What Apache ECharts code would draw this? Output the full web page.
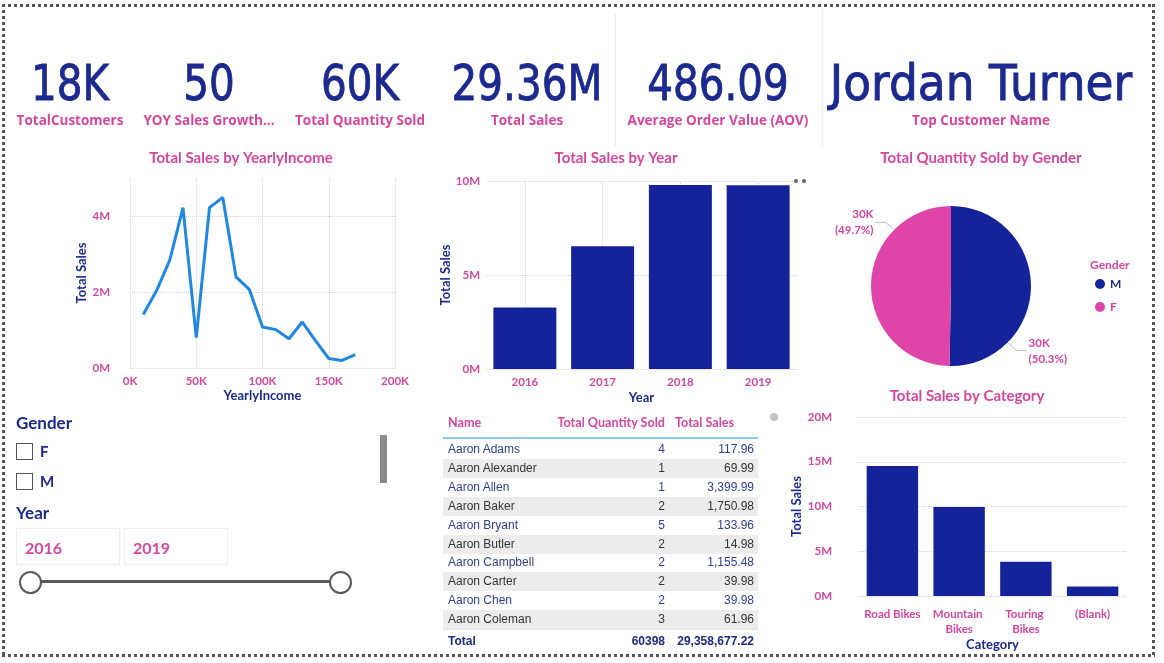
<!DOCTYPE html>
<html><head><meta charset="utf-8">
<script src="https://cdn.jsdelivr.net/npm/echarts@6/dist/echarts.min.js"></script>
<style>
html,body{margin:0;padding:0;background:#fff;width:1164px;height:663px;overflow:hidden;}
#chart{position:absolute;left:0;top:0;width:1164px;height:663px;}
#overlay div{position:absolute;}
.kv{top:58px;width:500px;text-align:center;font-family:'DejaVu Sans';font-size:50px;line-height:50px;color:#1c2a8f;-webkit-text-stroke:0.9px #1c2a8f;transform-origin:center;white-space:nowrap;}
.kl{top:112px;width:300px;text-align:center;font-family:'Open Sans';font-weight:bold;font-size:13.5px;line-height:16px;color:#d6469f;white-space:nowrap;}
.cell{font-family:'Liberation Sans',Arial;font-size:12px;line-height:18px;white-space:nowrap;}
.hd{font-family:Lato;font-weight:bold;font-size:12.6px;line-height:16px;color:#d6469f;white-space:nowrap;}
.sl{font-family:Lato;font-weight:bold;color:#1c2a8c;white-space:nowrap;}
</style></head><body>
<div id="chart"></div>
<div id="overlay"></div>
<script>
// ---------- data ----------
const kpiValues = ['18K', '50', '60K', '29.36M', '486.09', 'Jordan Turner'];
const kpiLabels = ['TotalCustomers', 'YOY Sales Growth...', 'Total Quantity Sold', 'Total Sales', 'Average Order Value (AOV)', 'Top Customer Name'];

const incomeK = [10, 20, 30, 40, 50, 60, 70, 80, 90, 100, 110, 120, 130, 140, 150, 160, 170];
const incomeSales = [1.41e6, 2.03e6, 2.84e6, 4.22e6, 0.80e6, 4.22e6, 4.49e6, 2.40e6, 2.07e6, 1.08e6, 1.01e6, 0.77e6, 1.21e6, 0.72e6, 0.25e6, 0.20e6, 0.35e6];

const years = ['2016', '2017', '2018', '2019'];
const yearSales = [3.27e6, 6.53e6, 9.79e6, 9.77e6];

const genders = ['M', 'F'];
const genderQty = [30381, 30017];

const categories = ['Road Bikes', 'Mountain Bikes', 'Touring Bikes', '(Blank)'];
const categorySales = [14.52e6, 9.95e6, 3.84e6, 1.05e6];

const tableNames = ['Aaron Adams', 'Aaron Alexander', 'Aaron Allen', 'Aaron Baker', 'Aaron Bryant', 'Aaron Butler', 'Aaron Campbell', 'Aaron Carter', 'Aaron Chen', 'Aaron Coleman'];
const tableQty = [4, 1, 1, 2, 5, 2, 2, 2, 2, 3];
const tableSales = [117.96, 69.99, 3399.99, 1750.98, 133.96, 14.98, 1155.48, 39.98, 39.98, 61.96];
const totalQty = 60398;
const totalSales = 29358677.22;

const genderOptions = ['F', 'M'];
const yearRange = ['2016', '2019'];

// ---------- styles ----------
const BLUE = '#15239a', PINK = '#d6469f', PIE_PINK = '#df45a8', NAVY = '#1c2a8c', LINE = '#1f88e3', GRIDC = '#d4d4d4';
const FONT = 'Lato';
const lbl = {color: PINK, fontFamily: FONT, fontWeight: 'bold', fontSize: 11.5};
const nm = {color: NAVY, fontFamily: FONT, fontWeight: 'bold', fontSize: 13};
const split = {show: true, lineStyle: {color: GRIDC, type: 'dotted', width: 1}};
const fmtM = v => (v / 1e6) + 'M';
const fmtK = v => Math.round(v / 1000) + 'K';
const noLine = {show: false}, noTick = {show: false};

const pieCenter = [951, 286], pieR = 80;

const chart = echarts.init(document.getElementById('chart'));
const titleText = (t, x, y, align) => ({type: 'text', x: x, y: y, style: {text: t, align: align || 'center', verticalAlign: 'middle', fill: PINK, font: 'bold 15px Lato'}});

chart.setOption({
  animation: false,
  grid: [
    {left: 130, top: 178, width: 265, height: 190},
    {left: 486, top: 181, width: 311, height: 188},
    {left: 859, top: 417, width: 267, height: 179}
  ],
  xAxis: [
    {gridIndex: 0, type: 'value', min: 0, max: 200000, interval: 50000, axisLine: noLine, axisTick: noTick, splitLine: split,
      axisLabel: Object.assign({}, lbl, {margin: 7, formatter: v => (v / 1000) + 'K'}),
      name: 'YearlyIncome', nameLocation: 'middle', nameGap: 21, nameTextStyle: nm},
    {gridIndex: 1, type: 'category', data: years, axisLine: noLine, axisTick: noTick,
      splitLine: Object.assign({}, split, {alignWithLabel: true}),
      axisLabel: Object.assign({}, lbl, {margin: 7}),
      name: 'Year', nameLocation: 'middle', nameGap: 22, nameTextStyle: nm},
    {gridIndex: 2, type: 'category', data: categories, axisLine: noLine, axisTick: noTick,
      axisLabel: Object.assign({}, lbl, {margin: 11, width: 64, overflow: 'break', lineHeight: 15, interval: 0}),
      name: 'Category', nameLocation: 'middle', nameGap: 40, nameTextStyle: nm}
  ],
  yAxis: [
    {gridIndex: 0, type: 'value', min: 0, max: 5e6, interval: 2e6, axisLine: noLine, axisTick: noTick,
      splitLine: Object.assign({}, split, {showMaxLine: false}),
      axisLabel: Object.assign({}, lbl, {margin: 20, formatter: fmtM, showMaxLabel: false}),
      name: 'Total Sales', nameLocation: 'middle', nameGap: 40, nameTextStyle: nm},
    {gridIndex: 1, type: 'value', min: 0, max: 1e7, interval: 5e6, axisLine: noLine, axisTick: noTick, splitLine: split,
      axisLabel: Object.assign({}, lbl, {margin: 6, formatter: fmtM}),
      name: 'Total Sales', nameLocation: 'middle', nameGap: 30, nameTextStyle: nm},
    {gridIndex: 2, type: 'value', min: 0, max: 2e7, interval: 5e6, axisLine: noLine, axisTick: noTick, splitLine: split,
      axisLabel: Object.assign({}, lbl, {margin: 27, formatter: fmtM}),
      name: 'Total Sales', nameLocation: 'middle', nameGap: 56, nameTextStyle: nm}
  ],
  legend: {
    orient: 'vertical', left: 1090, top: 273, itemWidth: 10, itemHeight: 10, itemGap: 11, icon: 'circle', selectedMode: false,
    textStyle: {fontFamily: FONT, fontWeight: 'bold', fontSize: 12},
    data: [{name: 'M', textStyle: {color: NAVY}}, {name: 'F', textStyle: {color: PINK}}]
  },
  graphic: [
    titleText('Total Sales by YearlyIncome', 241, 158),
    titleText('Total Sales by Year', 616, 158),
    titleText('Total Quantity Sold by Gender', 981, 158),
    titleText('Total Sales by Category', 967, 396),
    {type: 'text', x: 1090, y: 265, style: {text: 'Gender', align: 'left', verticalAlign: 'middle', fill: PINK, font: 'bold 12px Lato'}}
  ],
  series: [
    {type: 'line', xAxisIndex: 0, yAxisIndex: 0, symbol: 'none', lineStyle: {color: LINE, width: 3},
      data: incomeK.map((k, i) => [k * 1000, incomeSales[i]])},
    {type: 'bar', xAxisIndex: 1, yAxisIndex: 1, data: yearSales, barCategoryGap: '19%', itemStyle: {color: BLUE}},
    {type: 'bar', xAxisIndex: 2, yAxisIndex: 2, data: categorySales, barCategoryGap: '23%', itemStyle: {color: BLUE}},
    {type: 'pie', center: pieCenter, radius: pieR, startAngle: 90, clockwise: true, percentPrecision: 1,
      data: genders.map((g, i) => ({name: g, value: genderQty[i], itemStyle: {color: i === 0 ? BLUE : PIE_PINK}})),
      label: {show: true, formatter: p => fmtK(p.value) + '\n(' + p.percent + '%)', color: PINK, fontFamily: FONT, fontSize: 11.5, fontWeight: 'bold', lineHeight: 16},
      labelLine: {show: true, lineStyle: {color: '#c0c0c0', width: 1}},
      labelLayout: function (p) {
        const d = pieR * Math.SQRT1_2;
        if (p.dataIndex === 0) {
          const sx = pieCenter[0] + d, sy = pieCenter[1] + d;
          return {x: sx + 21, y: sy + 9, align: 'left', verticalAlign: 'middle', labelLinePoints: [[sx, sy], [sx + 9, sy + 8], [sx + 19, sy + 8]]};
        }
        const sx = pieCenter[0] - d, sy = pieCenter[1] - d;
        return {x: sx - 21, y: sy - 7, align: 'right', verticalAlign: 'middle', labelLinePoints: [[sx, sy], [sx - 9, sy - 7], [sx - 19, sy - 7]]};
      }
    }
  ]
});

// ---------- overlay (cards, slicers, table) ----------
const ov = document.getElementById('overlay');
const add = h => ov.insertAdjacentHTML('beforeend', h);

// border (square dotted)
const dotH = 'background:repeating-linear-gradient(to right,#555 0 3px,transparent 3px 6px);';
const dotV = 'background:repeating-linear-gradient(to bottom,#555 0 3px,transparent 3px 6px);';
add(`<div style="left:2px;top:4px;width:1153px;height:3px;${dotH}"></div>`);
add(`<div style="left:2px;top:654px;width:1153px;height:3px;${dotH}"></div>`);
add(`<div style="left:2px;top:4px;width:3px;height:653px;${dotV}"></div>`);
add(`<div style="left:1152px;top:4px;width:3px;height:653px;${dotV}"></div>`);

// card separators
add('<div style="left:615px;top:14px;width:1px;height:132px;background:#ececec"></div>');
add('<div style="left:822px;top:10px;width:1px;height:138px;background:#ececec"></div>');

// KPI cards
const kpiCenters = [70, 209, 360, 527, 718, 981];
const kpiScale = [0.81, 0.81, 0.81, 0.81, 0.81, 0.91];
kpiValues.forEach((v, i) => {
  add(`<div class="kv" style="left:${kpiCenters[i] - 250}px;transform:scaleX(${kpiScale[i]})">${v}</div>`);
  add(`<div class="kl" style="left:${kpiCenters[i] - 150}px">${kpiLabels[i]}</div>`);
});

// Gender slicer
add('<div class="sl" style="left:16px;top:413px;font-size:17px;line-height:20px">Gender</div>');
genderOptions.forEach((g, i) => {
  const y = 443 + i * 30;
  add(`<div style="left:16px;top:${y}px;width:15px;height:15px;border:1px solid #555;background:#fff"></div>`);
  add(`<div class="sl" style="left:40px;top:${y}px;font-size:15px;line-height:17px">${g}</div>`);
});
// Year slicer
add('<div class="sl" style="left:16px;top:503px;font-size:17px;line-height:20px">Year</div>');
yearRange.forEach((y, i) => {
  const x = 16 + i * 108;
  add(`<div style="left:${x}px;top:528px;width:102px;height:35px;border:1px solid #eeeeee"></div>`);
  add(`<div class="sl" style="left:${x + 9}px;top:538px;font-size:16px;line-height:20px;color:#d6469f">${y}</div>`);
});
add('<div style="left:30px;top:580px;width:310px;height:3px;background:#5a5a5a"></div>');
add('<div style="left:19px;top:571px;width:19px;height:19px;border:2px solid #5a5a5a;border-radius:50%;background:#fff"></div>');
add('<div style="left:329px;top:571px;width:19px;height:19px;border:2px solid #5a5a5a;border-radius:50%;background:#fff"></div>');
add('<div style="left:380px;top:435px;width:7px;height:48px;background:#8a8a8a"></div>');
add('<div style="left:770px;top:413px;width:8px;height:8px;border-radius:50%;background:#c4c4c4"></div>');
// visual header dots
add('<div style="left:794px;top:179px;width:4px;height:4px;border-radius:50%;background:#666"></div>');
add('<div style="left:802px;top:179px;width:4px;height:4px;border-radius:50%;background:#666"></div>');

// Table
const tL = 443, tW = 315, qtyR = 665, salesR = 754, nameL = 448;
const fmt2 = v => v.toLocaleString('en-US', {minimumFractionDigits: 2, maximumFractionDigits: 2});
add(`<div class="hd" style="left:${nameL}px;top:415px">Name</div>`);
add(`<div class="hd" style="left:${qtyR - 200}px;top:415px;width:200px;text-align:right">Total Quantity Sold</div>`);
add(`<div class="hd" style="left:675px;top:415px">Total Sales</div>`);
add(`<div style="left:${tL}px;top:437px;width:${tW}px;height:2px;background:#8cc6ea"></div>`);
tableNames.forEach((n, i) => {
  const top = 440 + i * 18.9;
  const col = i % 2 ? '#333333' : '#2f3d94';
  if (i % 2) add(`<div style="left:${tL}px;top:${top}px;width:${tW}px;height:19px;background:#ececec"></div>`);
  add(`<div class="cell" style="left:${nameL}px;top:${top}px;color:${col}">${n}</div>`);
  add(`<div class="cell" style="left:${qtyR - 100}px;width:100px;text-align:right;top:${top}px;color:${col}">${tableQty[i]}</div>`);
  add(`<div class="cell" style="left:${salesR - 100}px;width:100px;text-align:right;top:${top}px;color:${col}">${fmt2(tableSales[i])}</div>`);
});
add(`<div style="left:${tL}px;top:629px;width:${tW}px;height:1px;background:#e4e4e4"></div>`);
add(`<div class="cell" style="left:${nameL}px;top:632px;font-weight:bold;color:#1c2a80">Total</div>`);
add(`<div class="cell" style="left:${qtyR - 100}px;width:100px;text-align:right;top:632px;font-weight:bold;color:#1c2a80">${totalQty}</div>`);
add(`<div class="cell" style="left:${salesR - 150}px;width:150px;text-align:right;top:632px;font-weight:bold;color:#1c2a80">${fmt2(totalSales)}</div>`);
</script>
</body></html>
